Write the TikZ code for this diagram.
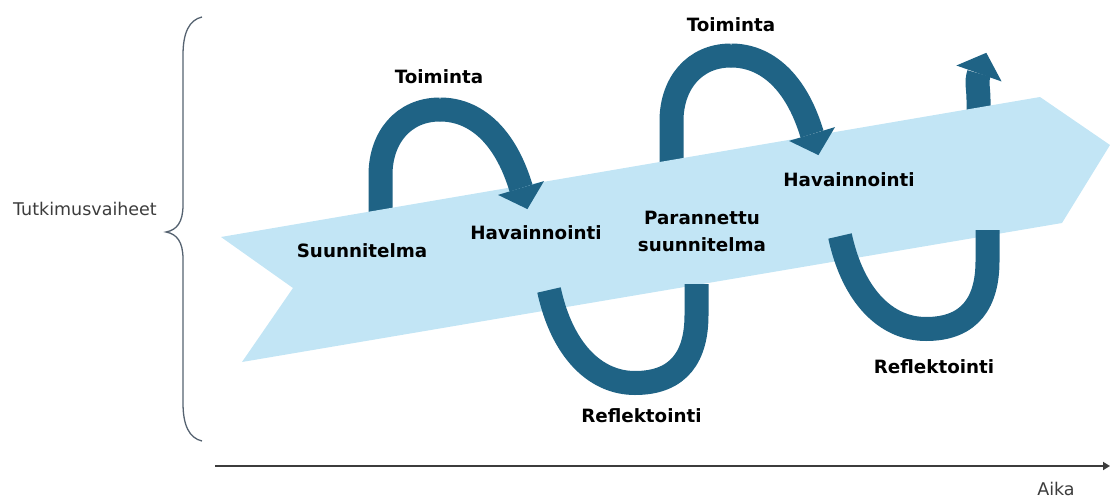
\documentclass[tikz,border=0pt]{standalone}
\usepackage{fontspec}
\setmainfont{DejaVu Sans}
\usetikzlibrary{arrows.meta}
\definecolor{cycleblue}{RGB}{31,99,133}
\definecolor{bandblue}{RGB}{194,229,245}
\definecolor{labelgray}{RGB}{60,60,60}
\definecolor{bracegray}{RGB}{85,98,112}

\begin{document}
\begin{tikzpicture}[x=1pt,y=-1pt,
  phase/.style={font=\fontsize{18.3}{27}\selectfont\bfseries, text=black, inner sep=0pt},
  axislabel/.style={font=\fontsize{17.5}{20}\selectfont, text=labelgray, inner sep=0pt},
  loopline/.style={draw=cycleblue, line width=24pt, line cap=butt},
  loophead/.style={fill=cycleblue},
  band/.style={fill=bandblue},
  % rising half of an action loop (its foot is hidden by the band)
  risingback/.pic={
    \draw[loopline] (380.5,232) -- (380.5,175)
      .. controls (380.5,138) and (403,109.5) .. (440,109.5);
  },
  % descending half of an action loop, ending in its arrowhead
  risingfront/.pic={
    \draw[loopline] (440,109.5)
      .. controls (475,109.5) and (505,135) .. (521,188);
    \fill[loophead] (544.0,181.1) -- (527.4,209.1) -- (498.0,194.9) -- cycle;
  },
  % reflection loop below the band
  fallingloop/.pic={
    \draw[loopline] (549,290)
      .. controls (562,350) and (595,383) .. (635,383)
      .. controls (680,383) and (696.5,355) .. (696.5,315) -- (696.5,284);
  }]

\useasboundingbox (0,0) rectangle (1110,497);

% loops partly behind the band
\pic at (0,0) {risingback};
\pic at (291,-54) {risingback};
\draw[loopline] (978.5,130) -- (978.5,100)
  .. controls (978.5,88) and (976,82) .. (979,73.5);
\fill[loophead] (1001.6,81.5) -- (986.3,52.8) -- (956.4,65.5) -- cycle;

% the rising process band
\fill[band] (221,237) -- (1040,97) -- (1110,145) -- (1062,223)
  -- (242,362) -- (293,288) -- cycle;

% loops in front of the band
\pic at (0,0) {risingfront};
\pic at (291,-54) {risingfront};
\pic at (0,0) {fallingloop};
\pic at (291,-54) {fallingloop};

% phase labels
\node[phase, anchor=base] (plan) at (362,257) {Suunnitelma};
\node[phase, anchor=base] (act1) at (439,84) {Toiminta};
\node[phase, anchor=base] (obs1) at (536,239) {Havainnointi};
\node[phase, anchor=base] (ref1) at (641.5,422) {Reflektointi};
\node[phase, align=center] (plan2) at (702,231) {Parannettu\\suunnitelma};
\node[phase, anchor=base] (act2) at (731,32) {Toiminta};
\node[phase, anchor=base] (obs2) at (849,186) {Havainnointi};
\node[phase, anchor=base] (ref2) at (934,373) {Reflektointi};

% brace for the research phases
\draw[bracegray, line width=1.3pt] (202,17)
  .. controls (189,20) and (183,33) .. (183,55) -- (183,205)
  .. controls (183,222) and (177,230) .. (166,232)
  .. controls (177,234) and (183,242) .. (183,259) -- (183,403)
  .. controls (183,425) and (189,438) .. (202,441);
\node[axislabel, anchor=base] (phases) at (85,215) {Tutkimusvaiheet};

% time axis
\coordinate (t0) at (215,466);
\coordinate (t1) at (1110,466);
\draw[labelgray, line width=1.8pt, -{Triangle[length=7pt,width=8pt]}] (t0) -- (t1);
\node[axislabel, anchor=base] (time) at (1056,495) {Aika};
\end{tikzpicture}
\end{document}
